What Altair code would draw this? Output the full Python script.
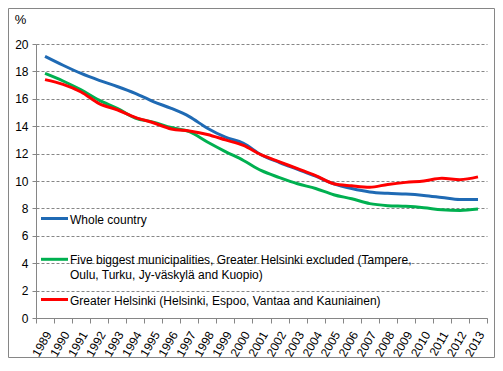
import altair as alt
import pandas as pd

years = [str(y) for y in range(1989, 2014)]

whole_country = [19.1, 18.45, 17.85, 17.35, 16.9, 16.4, 15.8, 15.3, 14.7, 13.85,
                 13.2, 12.75, 11.9, 11.35, 10.85, 10.35, 9.8, 9.45, 9.2, 9.1,
                 9.05, 8.95, 8.8, 8.65, 8.65]
five_biggest = [17.85, 17.3, 16.65, 15.9, 15.3, 14.6, 14.3, 13.9, 13.6, 12.85,
                12.15, 11.5, 10.75, 10.25, 9.8, 9.45, 9.0, 8.7, 8.35, 8.2,
                8.15, 8.05, 7.9, 7.85, 7.95]
greater_helsinki = [17.4, 17.05, 16.5, 15.65, 15.2, 14.65, 14.25, 13.8, 13.65, 13.4,
                    13.0, 12.6, 11.9, 11.4, 10.9, 10.4, 9.8, 9.65, 9.55, 9.75,
                    9.9, 10.0, 10.2, 10.1, 10.3]

series_keys = ["whole", "five", "helsinki"]
series_values = [whole_country, five_biggest, greater_helsinki]
colors = ["#1F6AB4", "#00B050", "#FF0000"]
legend_labels = [
    ["Whole country"],
    ["Five biggest municipalities, Greater Helsinki excluded (Tampere,",
     "Oulu, Turku, Jy-väskylä and Kuopio)"],
    ["Greater Helsinki (Helsinki, Espoo, Vantaa and Kauniainen)"],
]
y_ticks = list(range(0, 21, 2))

FONT = "Liberation Sans"
GRAY = "#868686"
W, H = 451, 274

rows = []
for key, vals in zip(series_keys, series_values):
    for yr, v in zip(years, vals):
        rows.append({"year": yr, "value": v, "series": key})
df = pd.DataFrame(rows)

x_enc = alt.X("year:O", scale=alt.Scale(type="band", domain=years, paddingInner=0, paddingOuter=0),
              axis=alt.Axis(title=None, labelAngle=-60, labelAlign="right", labelBaseline="middle",
                            labelPadding=9, labelOffset=3, tickBand="extent", tickSize=5,
                            tickColor=GRAY, domainColor=GRAY, labelFont=FONT, labelFontSize=12,
                            labelColor="#000000", grid=False, labelOverlap=False))
y_enc = alt.Y("value:Q", scale=alt.Scale(domain=[0, 20], nice=False),
              axis=alt.Axis(values=y_ticks, title="%", titleAngle=0, titleX=-16, titleY=-25,
                            titleAlign="center", titleBaseline="middle", titleFont=FONT,
                            titleFontSize=13, titleFontWeight="normal", titleColor="#000000",
                            labelFont=FONT, labelFontSize=12, labelColor="#000000", labelPadding=4,
                            tickSize=4, tickColor=GRAY, domainColor=GRAY, labelOverlap=False,
                            grid=True, gridColor=GRAY, gridDash=[3, 2], gridWidth=1))

layers = []
for key, col in zip(series_keys, colors):
    layers.append(
        alt.Chart(df).transform_filter(alt.datum.series == key)
        .mark_line(color=col, strokeWidth=3, interpolate="monotone")
        .encode(x=x_enc, y=y_enc)
    )

# Legend (drawn inside the plot area, as in the original)
one = pd.DataFrame({"a": [0]})
sym_y = [174.5, 215.3, 255.5]
for i, (col, labels) in enumerate(zip(colors, legend_labels)):
    layers.append(
        alt.Chart(one).mark_rule(color=col, strokeWidth=3)
        .encode(x=alt.value(5), x2=alt.value(32), y=alt.value(sym_y[i]))
    )
    for j, lab in enumerate(labels):
        layers.append(
            alt.Chart(pd.DataFrame({"t": [lab]})).mark_text(
                align="left", baseline="middle", font=FONT, fontSize=12, color="#000000")
            .encode(x=alt.value(34), y=alt.value(sym_y[i] + 1 + 14.5 * j), text="t:N")
        )

# Outer chart border
layers.append(
    alt.Chart(one).mark_rect(fill=None, stroke=GRAY, strokeWidth=1, clip=False)
    .encode(x=alt.value(-27.5), x2=alt.value(458.5), y=alt.value(-35.5), y2=alt.value(313.5))
)

chart = alt.layer(*layers).properties(
    width=W, height=H,
    autosize=alt.AutoSizeParams(type="none"),
    padding={"left": 28, "top": 36, "right": 8, "bottom": 40},
    background="#FFFFFF",
).configure_view(stroke=None)

chart.save("out.html", embed_options={"renderer": "svg", "actions": False})
